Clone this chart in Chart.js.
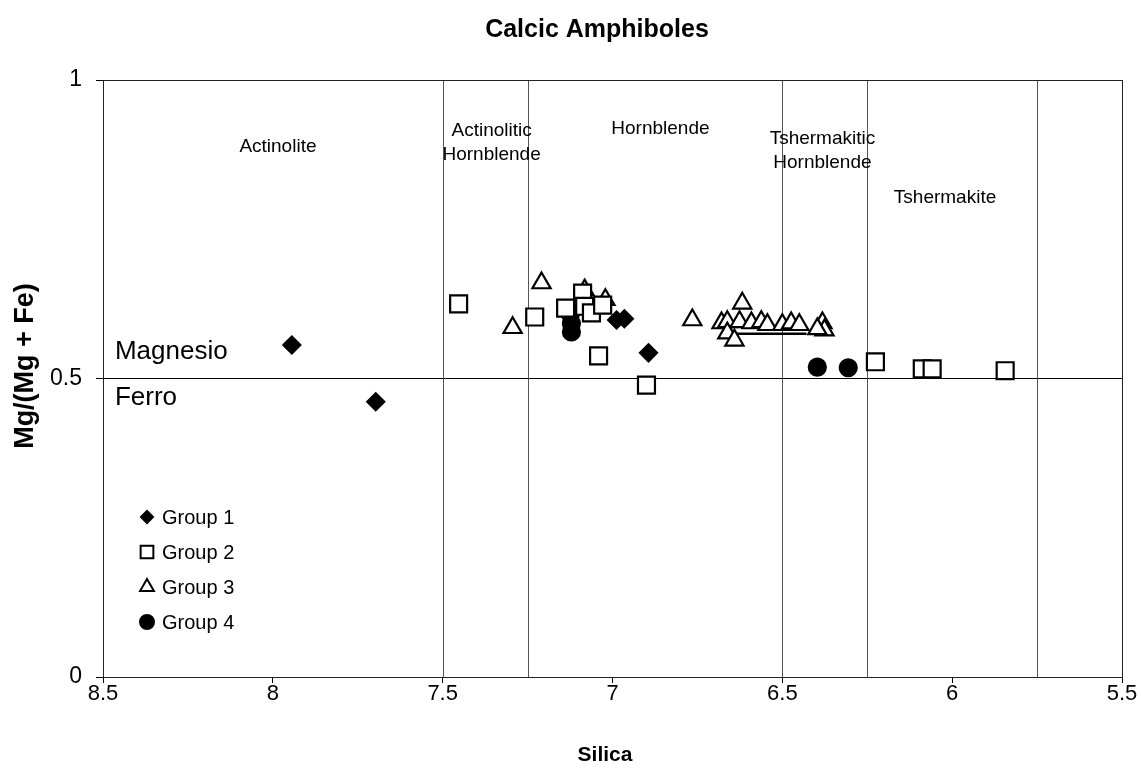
<!DOCTYPE html>
<html>
<head>
<meta charset="utf-8">
<script src="https://cdn.jsdelivr.net/npm/chart.js@4/dist/chart.umd.min.js"></script>
<style>
  html, body { margin: 0; padding: 0; background: #fff; }
</style>
</head>
<body>
<canvas id="chart" width="1141" height="769"></canvas>
<script>
// Si (apfu) vs Mg/(Mg+Fe) per group
const group1 = [
  [7.944, 0.556], [7.697, 0.461], [6.988, 0.598], [6.965, 0.600], [6.894, 0.543]
];
const group2 = [
  [7.453, 0.625], [7.229, 0.603], [7.138, 0.618], [7.088, 0.643], [7.082, 0.621],
  [7.062, 0.610], [7.029, 0.623], [7.041, 0.538], [6.900, 0.489], [6.226, 0.528],
  [6.088, 0.516], [6.059, 0.516], [5.844, 0.513]
];
const group3 = [
  [7.209, 0.660], [7.294, 0.585], [7.082, 0.648], [7.021, 0.632], [6.765, 0.598],
  [6.618, 0.626], [6.679, 0.593], [6.662, 0.595], [6.626, 0.595], [6.591, 0.593],
  [6.562, 0.595], [6.544, 0.590], [6.500, 0.590], [6.474, 0.593], [6.450, 0.590],
  [6.382, 0.593], [6.376, 0.581], [6.397, 0.583], [6.662, 0.576], [6.641, 0.564]
];
const group4 = [
  [6.397, 0.519], [6.306, 0.518], [7.124, 0.608], [7.121, 0.592], [7.121, 0.578]
];
const tieLine = [[6.647, 0.575], [6.429, 0.575]];

// field boundaries on the Si axis
const siBoundaries = [7.5, 7.25, 6.5, 6.25, 5.75];
const fieldNames = [
  { lines: ['Actinolite'], x: 7.985, y: 0.888 },
  { lines: ['Actinolitic', 'Hornblende'], x: 7.356, y: 0.915 },
  { lines: ['Hornblende'], x: 6.859, y: 0.918 },
  { lines: ['Tshermakitic', 'Hornblende'], x: 6.382, y: 0.902 },
  { lines: ['Tshermakite'], x: 6.021, y: 0.802 }
];
const sideNames = [
  { text: 'Magnesio', x: 8.465, y: 0.545 },
  { text: 'Ferro', x: 8.465, y: 0.468 }
];

const toXY = arr => arr.map(p => ({ x: p[0], y: p[1] }));
const FONT = '"Liberation Sans", Arial, sans-serif';

const styles = [
  { label: 'Group 1', data: group1, pointStyle: 'rectRot', pointRadius: 8.5, bg: '#000', legendR: 6 },
  { label: 'Group 2', data: group2, pointStyle: 'rect', pointRadius: 12, bg: '#fff', legendR: 9 },
  { label: 'Group 3', data: group3, pointStyle: 'triangle', pointRadius: 10.5, bg: '#fff', legendR: 8 },
  { label: 'Group 4', data: group4, pointStyle: 'circle', pointRadius: 8.5, bg: '#000', legendR: 7 }
];

const datasets = styles.map(s => ({
  label: s.label,
  data: toXY(s.data),
  pointStyle: s.pointStyle,
  pointRadius: s.pointRadius,
  pointBackgroundColor: s.bg,
  pointBorderColor: '#000',
  pointBorderWidth: 2.2,
  showLine: false
}));
datasets.push({
  label: 'tie',
  data: toXY(tieLine),
  showLine: true,
  borderColor: '#000',
  borderWidth: 2.5,
  pointRadius: 0
});

const fieldsPlugin = {
  id: 'fields',
  beforeDatasetsDraw(chart) {
    const { ctx, chartArea: a, scales: { x, y } } = chart;
    ctx.save();
    ctx.strokeStyle = '#555';
    ctx.lineWidth = 1;
    siBoundaries.forEach(v => {
      const px = Math.round(x.getPixelForValue(v)) + 0.5;
      ctx.beginPath();
      ctx.moveTo(px, a.top);
      ctx.lineTo(px, a.bottom);
      ctx.stroke();
    });
    ctx.fillStyle = '#000';
    ctx.textAlign = 'center';
    ctx.textBaseline = 'middle';
    ctx.font = '19px ' + FONT;
    fieldNames.forEach(f => {
      f.lines.forEach((t, i) => {
        ctx.fillText(t, x.getPixelForValue(f.x), y.getPixelForValue(f.y) + i * 24);
      });
    });
    ctx.textAlign = 'left';
    ctx.font = '26px ' + FONT;
    sideNames.forEach(s => {
      ctx.fillText(s.text, x.getPixelForValue(s.x), y.getPixelForValue(s.y));
    });
    ctx.restore();
  },
  afterDraw(chart) {
    const { ctx, chartArea: a } = chart;
    ctx.save();
    // plot frame
    ctx.strokeStyle = '#222';
    ctx.lineWidth = 1;
    ctx.strokeRect(a.left + 0.5, a.top + 0.5, a.right - a.left, a.bottom - a.top);

    // chart and axis titles
    ctx.fillStyle = '#000';
    ctx.textAlign = 'center';
    ctx.textBaseline = 'middle';
    ctx.font = 'bold 25px ' + FONT;
    ctx.fillText('Calcic Amphiboles', 597, 30);
    ctx.font = 'bold 21px ' + FONT;
    ctx.fillText('Silica', 605, 755);
    ctx.save();
    ctx.translate(26, 366);
    ctx.rotate(-Math.PI / 2);
    ctx.font = 'bold 27px ' + FONT;
    ctx.fillText('Mg/(Mg + Fe)', 0, 0);
    ctx.restore();

    // legend inside plot
    ctx.textAlign = 'left';
    ctx.font = '20px ' + FONT;
    styles.forEach((s, i) => {
      const cx = a.left + 44;
      const cy = a.top + 437 + i * 35;
      ctx.fillStyle = s.bg;
      ctx.strokeStyle = '#000';
      ctx.lineWidth = 2;
      Chart.helpers.drawPoint(ctx, { pointStyle: s.pointStyle, radius: s.legendR, rotation: 0, borderWidth: 2 }, cx, cy);
      ctx.fillStyle = '#000';
      ctx.fillText(s.label, cx + 15, cy + 1);
    });
    ctx.restore();
  }
};

const tickLabel = v => String(v);

new Chart(document.getElementById('chart'), {
  type: 'scatter',
  data: { datasets },
  options: {
    responsive: false,
    animation: false,
    layout: { padding: { top: 80, right: 19, left: 0, bottom: 0 } },
    plugins: {
      legend: { display: false },
      title: { display: false },
      tooltip: { enabled: false }
    },
    scales: {
      x: {
        type: 'linear',
        reverse: true,
        min: 5.5,
        max: 8.5,
        ticks: { stepSize: 0.5, color: '#000', font: { family: FONT, size: 22 }, padding: -2, callback: tickLabel },
        grid: { drawOnChartArea: false, drawTicks: true, tickLength: 6, color: '#000' },
        border: { color: '#000' },
        afterFit(scale) { scale.height = 92; }
      },
      y: {
        min: 0,
        max: 1,
        ticks: { stepSize: 0.5, color: '#000', font: { family: FONT, size: 23 }, padding: 14, callback: tickLabel },
        grid: { drawOnChartArea: true, drawTicks: true, tickLength: 7, color: '#000' },
        border: { color: '#000' },
        afterFit(scale) { scale.width = 103; }
      }
    }
  },
  plugins: [fieldsPlugin]
});
</script>
</body>
</html>
